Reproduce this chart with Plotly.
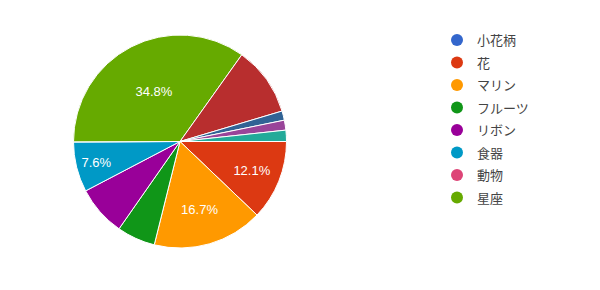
import plotly.graph_objects as go

labels = ["小花柄", "花", "マリン", "フルーツ", "リボン", "食器", "動物", "星座",
          "その他1", "その他2", "その他3", "その他4"]
values = [0, 12.1, 16.7, 5.8, 7.6, 7.6, 0, 34.8, 10.5, 1.4, 1.5, 1.7]
colors = ["#3366cc", "#dc3912", "#ff9900", "#109618", "#990099", "#0099c6",
          "#dd4477", "#66aa00", "#b82e2e", "#316395", "#994499", "#22aa99"]
legend_labels = labels[:8]
shown_text = ["", "12.1%", "16.7%", "", "", "7.6%", "", "34.8%", "", "", "", ""]

font_family = "Arial, Liberation Sans, Noto Sans CJK JP, sans-serif"

fig = go.Figure()
fig.add_trace(go.Pie(
    labels=labels, values=values, sort=False, direction="clockwise", rotation=90,
    marker=dict(colors=colors, line=dict(color="white", width=1)),
    text=shown_text, textinfo="text", textposition="inside",
    insidetextorientation="horizontal",
    textfont=dict(color="white", size=13, family=font_family),
    showlegend=False, hoverinfo="label+percent",
    domain=dict(x=[73/600, 287/600], y=[42/290, 255/290]),
))
for name, col in zip(legend_labels, colors[:8]):
    fig.add_trace(go.Scatter(
        x=[None], y=[None], mode="markers", name=name, legendgroup=name,
        marker=dict(color=col, size=11, symbol="circle"),
    ))

fig.update_layout(
    width=600, height=290, margin=dict(l=0, r=0, t=0, b=0),
    paper_bgcolor="white", plot_bgcolor="white",
    xaxis=dict(visible=False), yaxis=dict(visible=False),
    font=dict(family=font_family, color="#444444", size=13),
    legend=dict(x=437/600, y=1 - 25/290, xanchor="left", yanchor="top",
                font=dict(size=13, color="#444444", family=font_family),
                tracegroupgap=2.6, itemsizing="constant",
                bgcolor="rgba(0,0,0,0)"),
)
fig.write_html("out.html")
